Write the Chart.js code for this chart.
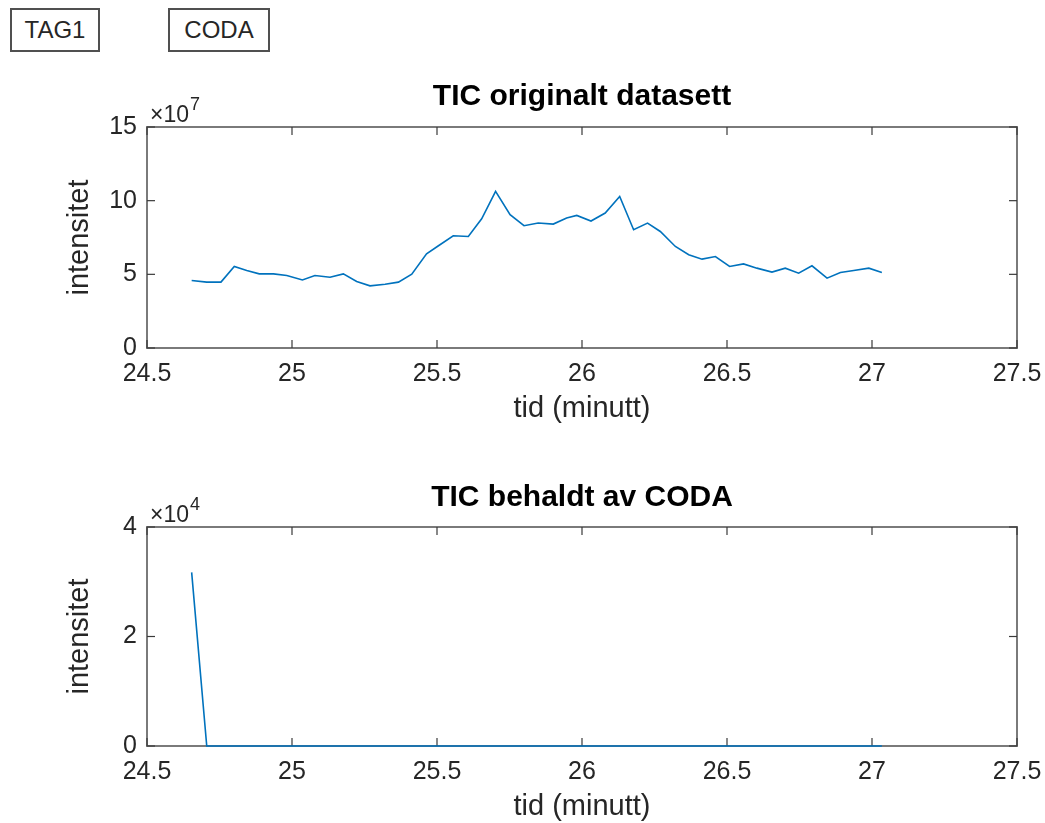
<!DOCTYPE html>
<html>
<head>
<meta charset="utf-8">
<script src="https://cdn.jsdelivr.net/npm/chart.js@4.4.1/dist/chart.umd.min.js"></script>
<style>
  html, body { margin: 0; padding: 0; background: #ffffff; }
  body { width: 1045px; height: 823px; overflow: hidden; position: relative; font-family: "Liberation Sans", Arial, Helvetica, sans-serif; }
  .btn { position: absolute; top: 8px; height: 44px; box-sizing: border-box; border: 2px solid #505050; background: #fff;
         font-size: 24px; line-height: 40px; text-align: center; color: #262626; }
  #b1 { left: 10px; width: 90px; }
  #b2 { left: 168px; width: 102px; }
  canvas { position: absolute; left: 0; }
  #c1 { top: 0; }
  #c2 { top: 440px; }
</style>
</head>
<body>
<div class="btn" id="b1">TAG1</div>
<div class="btn" id="b2">CODA</div>
<canvas id="c1" width="1045" height="440"></canvas>
<canvas id="c2" width="1045" height="383"></canvas>
<script>
// ---- data ----
const timeMin = [24.654, 24.706, 24.755, 24.801, 24.844, 24.887, 24.936, 24.982, 25.036, 25.079,
                 25.131, 25.177, 25.223, 25.269, 25.321, 25.367, 25.413, 25.464, 25.505, 25.556,
                 25.608, 25.654, 25.702, 25.752, 25.800, 25.849, 25.901, 25.947, 25.982, 26.031,
                 26.080, 26.130, 26.178, 26.226, 26.270, 26.322, 26.368, 26.414, 26.460, 26.509,
                 26.557, 26.603, 26.655, 26.701, 26.747, 26.793, 26.845, 26.891, 26.937, 26.989, 27.034];
const ticOriginal = [45800000, 44700000, 44700000, 55300000, 52600000, 50300000, 50300000, 49200000, 46200000, 49200000,
                     48000000, 50300000, 45100000, 42200000, 43300000, 44700000, 50100000, 63900000, 69400000, 76200000,
                     75700000, 87700000, 106300000, 90500000, 83000000, 84800000, 84100000, 88200000, 90000000, 86200000,
                     91600000, 102900000, 80300000, 84800000, 79100000, 68900000, 63300000, 60300000, 62100000, 55300000,
                     57100000, 54200000, 51500000, 54200000, 50800000, 55800000, 47400000, 51200000, 52600000, 54200000, 51200000];
const ticCoda = [31700, 0, 0, 0, 0, 0, 0, 0, 0, 0,
                 0, 0, 0, 0, 0, 0, 0, 0, 0, 0,
                 0, 0, 0, 0, 0, 0, 0, 0, 0, 0,
                 0, 0, 0, 0, 0, 0, 0, 0, 0, 0,
                 0, 0, 0, 0, 0, 0, 0, 0, 0, 0, 0];
const xTicks = [24.5, 25, 25.5, 26, 26.5, 27, 27.5];
const xTickLabels = ['24.5', '25', '25.5', '26', '26.5', '27', '27.5'];
const yTicksTop = [0, 50000000, 100000000, 150000000];
const yTickLabelsTop = ['0', '5', '10', '15'];
const yTicksBottom = [0, 20000, 40000];
const yTickLabelsBottom = ['0', '2', '4'];

const FONT = '"Liberation Sans", Arial, Helvetica, sans-serif';
Chart.defaults.font.family = FONT;
Chart.defaults.color = '#262626';

const matlabAxes = {
  id: 'matlabAxes',
  beforeDatasetsDraw(chart, args, opts) {
    const { ctx, chartArea: a, scales } = chart;
    const x = scales.x, y = scales.y;
    ctx.save();
    ctx.strokeStyle = '#7a7a7a';
    ctx.lineWidth = 2;
    ctx.strokeRect(a.left, a.top, a.right - a.left, a.bottom - a.top);
    ctx.strokeStyle = '#3a3a3a';
    ctx.lineWidth = 1.2;
    const L = 8;
    const seg = (x1, y1, x2, y2) => { ctx.beginPath(); ctx.moveTo(x1, y1); ctx.lineTo(x2, y2); ctx.stroke(); };
    x.ticks.forEach(t => {
      const px = x.getPixelForValue(t.value);
      seg(px, a.bottom, px, a.bottom - L);
      seg(px, a.top, px, a.top + L);
    });
    y.ticks.forEach(t => {
      const py = y.getPixelForValue(t.value);
      seg(a.left, py, a.left + L, py);
      seg(a.right, py, a.right - L, py);
    });
    ctx.restore();
  },
  afterDraw(chart, args, opts) {
    const { ctx, chartArea: a } = chart;
    ctx.save();
    ctx.fillStyle = '#262626';
    ctx.textBaseline = 'alphabetic';
    ctx.textAlign = 'left';
    ctx.font = '23px ' + FONT;
    const base = a.top - 5;
    ctx.fillText('\u00d710', a.left + 3, base);
    const w = ctx.measureText('\u00d710').width;
    ctx.font = '18px ' + FONT;
    ctx.fillText(opts.exp, a.left + 4 + w, base - 12);
    ctx.restore();
  }
};

function makeChart(id, title, values, yMax, yTicks, yLabels, exp, layoutCfg) {
  const pts = timeMin.map((t, i) => ({ x: t, y: values[i] }));
  return new Chart(document.getElementById(id), {
    type: 'line',
    data: { datasets: [{ data: pts, borderColor: '#0072BD', borderWidth: 1.6, pointRadius: 0, fill: false, tension: 0, clip: false }] },
    plugins: [matlabAxes],
    options: {
      responsive: false,
      animation: false,
      devicePixelRatio: 1,
      layout: { padding: { left: 0, right: 28, top: 0, bottom: 0 } },
      plugins: {
        legend: { display: false },
        tooltip: { enabled: false },
        title: {
          display: true, text: title, color: '#000000', fullSize: false,
          font: { size: 30, weight: 'bold', lineHeight: 1 },
          padding: { top: layoutCfg.titleTop, bottom: layoutCfg.titleBottom }
        },
        matlabAxes: { exp: exp }
      },
      scales: {
        x: {
          type: 'linear', min: 24.5, max: 27.5,
          afterBuildTicks: s => { s.ticks = xTicks.map(v => ({ value: v })); },
          afterFit: s => { s.height = layoutCfg.xAxisH; s.paddingLeft = 0; s.paddingRight = 0; },
          ticks: { autoSkip: false, maxRotation: 0, padding: 14, font: { size: 25, lineHeight: 1 },
                   callback: (v, i) => xTickLabels[i] },
          grid: { display: false, drawTicks: false },
          border: { display: false },
          title: { display: true, text: 'tid (minutt)', font: { size: 29, lineHeight: 1 }, padding: { top: 0, bottom: layoutCfg.xTitlePad } }
        },
        y: {
          type: 'linear', min: 0, max: yMax,
          afterBuildTicks: s => { s.ticks = yTicks.map(v => ({ value: v })); },
          afterFit: s => { s.width = 147; },
          ticks: { padding: 10, font: { size: 25, lineHeight: 1 }, callback: (v, i) => yLabels[i] },
          grid: { display: false, drawTicks: false },
          border: { display: false },
          title: { display: true, text: 'intensitet', font: { size: 29, lineHeight: 1 }, padding: { top: 65, bottom: 0 } }
        }
      }
    }
  });
}

makeChart('c1', 'TIC originalt datasett', ticOriginal, 150000000, yTicksTop, yTickLabelsTop, '7',
          { titleTop: 82, titleBottom: 15, xAxisH: 92, xTitlePad: 17 });
makeChart('c2', 'TIC behaldt av CODA', ticCoda, 40000, yTicksBottom, yTickLabelsBottom, '4',
          { titleTop: 43, titleBottom: 14, xAxisH: 77, xTitlePad: 2 });
</script>
</body>
</html>
